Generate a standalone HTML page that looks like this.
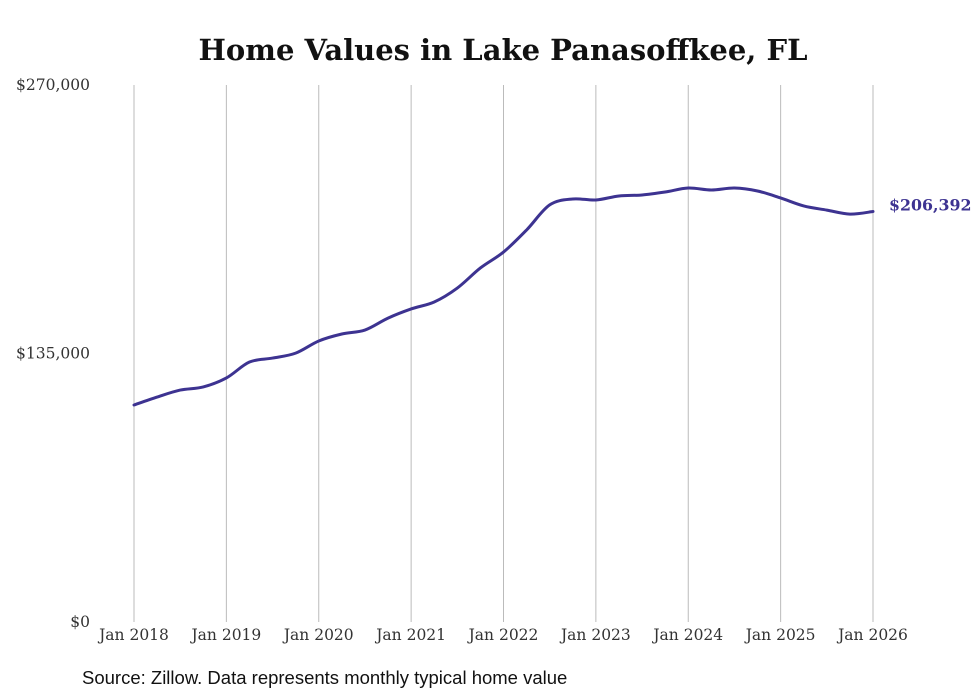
<!DOCTYPE html>
<html><head><meta charset="utf-8">
<style>
html,body{margin:0;padding:0;background:#fff;}
svg{display:block;}
</style></head>
<body>
<svg id="chart" width="980" height="699" viewBox="0 0 980 699" xmlns="http://www.w3.org/2000/svg">
<text x="503" y="60" text-anchor="middle" font-family="'DejaVu Serif','Liberation Serif',serif" font-weight="bold" font-size="29" fill="#111">Home Values in Lake Panasoffkee, FL</text>
<g id="grid"></g>
<g id="yticks"></g>
<g id="xticks"></g>
<path id="line" fill="none" stroke="#3d3391" stroke-width="3" stroke-linejoin="round" stroke-linecap="round"/>
<text id="endlabel" font-family="'DejaVu Serif','Liberation Serif',serif" font-weight="bold" font-size="15.8" fill="#3d3391"></text>
<text x="82" y="684" font-family="'Liberation Sans',sans-serif" font-size="18.5" fill="#111">Source: Zillow. Data represents monthly typical home value</text>
</svg>
<script>
const yearLabels = ["Jan 2018","Jan 2019","Jan 2020","Jan 2021","Jan 2022","Jan 2023","Jan 2024","Jan 2025","Jan 2026"];
const yTickValues = [0,135000,270000];
const yTickLabels = ["$0","$135,000","$270,000"];
// quarterly values starting Jan 2018
const values = [109100,113100,116600,118200,122700,130700,132700,135200,141300,144800,146800,152800,157400,160900,167900,178000,186000,197100,209700,212700,212200,214200,214700,216200,218200,217200,218200,216700,213200,209200,207100,205100,206392];
const endLabel = "$206,392";

const x0=134, x1=873, yTop=85, yBot=622, yMax=270000;
const xScale = t => x0 + (x1-x0)*t/8;
const yScale = v => yBot - (yBot-yTop)*v/yMax;
const NS="http://www.w3.org/2000/svg";
const grid=document.getElementById('grid'), xt=document.getElementById('xticks'), yt=document.getElementById('yticks');
yearLabels.forEach((lab,i)=>{
  const x=xScale(i);
  const l=document.createElementNS(NS,'line');
  l.setAttribute('x1',x);l.setAttribute('x2',x);l.setAttribute('y1',yTop);l.setAttribute('y2',yBot);
  l.setAttribute('stroke','#bbb');l.setAttribute('stroke-width','1');
  
  
  grid.appendChild(l);
  const t=document.createElementNS(NS,'text');
  t.setAttribute('x',x);t.setAttribute('y',640);t.setAttribute('text-anchor','middle');
  t.setAttribute('font-family',"'DejaVu Serif','Liberation Serif',serif");t.setAttribute('font-size','15.5');t.setAttribute('fill','#333');
  t.textContent=lab;
  
  
  xt.appendChild(t);
});
yTickValues.forEach((v,i)=>{
  const t=document.createElementNS(NS,'text');
  t.setAttribute('x',90);t.setAttribute('y',yScale(v)+5);t.setAttribute('text-anchor','end');
  t.setAttribute('font-family',"'DejaVu Serif','Liberation Serif',serif");t.setAttribute('font-size','15.5');t.setAttribute('fill','#333');
  t.textContent=yTickLabels[i];
  
  
  yt.appendChild(t);
});
const pts=values.map((v,i)=>[xScale(i/4),yScale(v)]);
let d=`M${pts[0][0]},${pts[0][1]}`;
for(let i=0;i<pts.length-1;i++){
  const p0=pts[Math.max(0,i-1)],p1=pts[i],p2=pts[i+1],p3=pts[Math.min(pts.length-1,i+2)];
  const c1=[p1[0]+(p2[0]-p0[0])/6,p1[1]+(p2[1]-p0[1])/6];
  const c2=[p2[0]-(p3[0]-p1[0])/6,p2[1]-(p3[1]-p1[1])/6];
  d+=` C${c1[0]},${c1[1]} ${c2[0]},${c2[1]} ${p2[0]},${p2[1]}`;
}
document.getElementById('line').setAttribute('d',d);
const last=pts[pts.length-1];
const el=document.getElementById('endlabel');
el.setAttribute('x',last[0]+16);el.setAttribute('y',last[1]-1);
el.textContent=endLabel;
</script>
</body></html>
